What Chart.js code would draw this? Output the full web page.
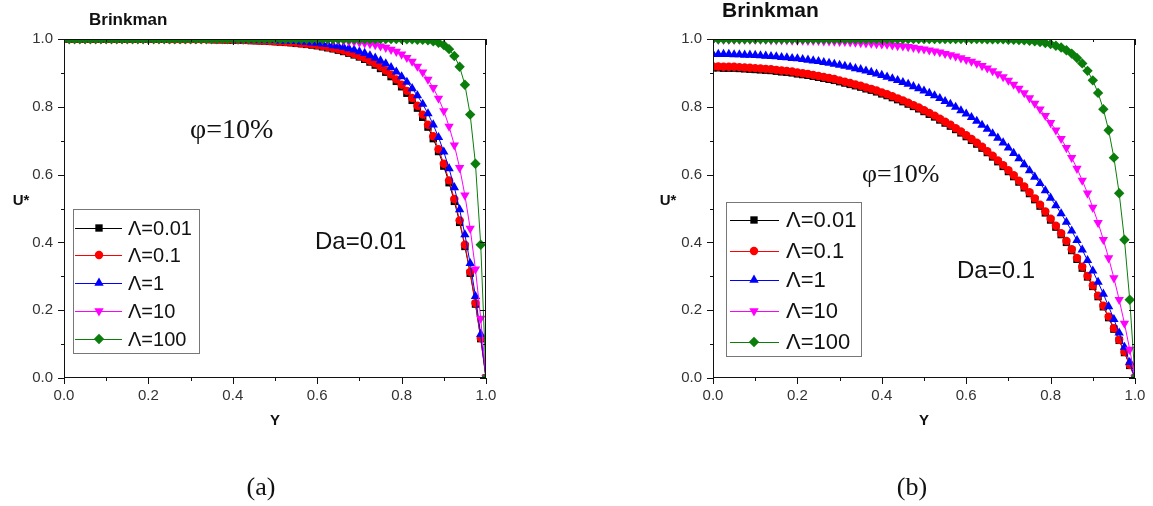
<!DOCTYPE html>
<html>
<head>
<meta charset="utf-8">
<script src="https://cdn.jsdelivr.net/npm/chart.js@4.4.1/dist/chart.umd.min.js"></script>
<style>
  body { margin: 0; background: #fff; width: 1153px; height: 506px; position: relative; overflow: hidden; }
  canvas { position: absolute; top: 0; }
  #chartA { left: 0; }
  #chartB { left: 576px; }
  .cap { position: absolute; top: 472px; line-height: 30px; font-family: "Liberation Serif", "DejaVu Serif", serif; font-size: 26px; color: #111; transform: translateX(-50%); }
</style>
</head>
<body>
<canvas id="chartA" width="576" height="506"></canvas>
<canvas id="chartB" width="577" height="506"></canvas>
<div class="cap" style="left:261px">(a)</div>
<div class="cap" style="left:912px">(b)</div>
<script>
// Y positions across the channel (same for every curve)
const yPos = [0,0.0125,0.025,0.0375,0.05,0.0625,0.075,0.0875,0.1,0.1125,
  0.125,0.1375,0.15,0.1625,0.175,0.1875,0.2,0.2125,0.225,0.2375,
  0.25,0.2625,0.275,0.2875,0.3,0.3125,0.325,0.3375,0.35,0.3625,
  0.375,0.3875,0.4,0.4125,0.425,0.4375,0.45,0.4625,0.475,0.4875,
  0.5,0.5125,0.525,0.5375,0.55,0.5625,0.575,0.5875,0.6,0.6125,
  0.625,0.6375,0.65,0.6625,0.675,0.6875,0.7,0.7125,0.725,0.7375,
  0.75,0.7625,0.775,0.7875,0.8,0.8125,0.825,0.8375,0.85,0.8625,
  0.875,0.8875,0.9,0.9125,0.925,0.9375,0.95,0.9625,0.975,0.9875,1];

const lambdaLabels = ['Λ=0.01', 'Λ=0.1', 'Λ=1', 'Λ=10', 'Λ=100'];

// (a) Da = 0.01
const uA_L001 = [1,1,1,1,1,1,1,1,1,1, 1,1,1,1,1,1,1,1,1,1,
  0.999,0.999,0.999,0.999,0.999,0.999,0.999,0.999,0.998,0.998,
  0.998,0.997,0.997,0.997,0.996,0.996,0.995,0.995,0.994,0.993,
  0.992,0.991,0.990,0.989,0.987,0.986,0.984,0.982,0.980,0.977,
  0.974,0.971,0.967,0.963,0.958,0.953,0.947,0.940,0.932,0.923,
  0.913,0.902,0.889,0.875,0.859,0.840,0.819,0.796,0.769,0.740,
  0.706,0.668,0.625,0.576,0.521,0.459,0.388,0.309,0.218,0.116,0];
const uA_L01 = [1,1,1,1,1,1,1,1,1,1, 1,1,1,1,1,1,1,1,1,1,
  0.999,0.999,0.999,0.999,0.999,0.999,0.999,0.999,0.999,0.998,
  0.998,0.998,0.998,0.997,0.997,0.996,0.996,0.995,0.995,0.994,
  0.993,0.992,0.991,0.990,0.989,0.987,0.986,0.984,0.982,0.979,
  0.976,0.973,0.970,0.966,0.961,0.956,0.950,0.944,0.936,0.928,
  0.918,0.907,0.895,0.881,0.865,0.847,0.826,0.803,0.777,0.747,
  0.713,0.675,0.632,0.583,0.528,0.465,0.393,0.313,0.221,0.118,0];
const uA_L1 = [1,1,1,1,1,1,1,1,1,1, 1,1,1,1,1,1,1,1,1,1,
  1,1,1,0.999,0.999,0.999,0.999,0.999,0.999,0.999,
  0.999,0.999,0.999,0.998,0.998,0.998,0.998,0.997,0.997,0.996,
  0.996,0.995,0.995,0.994,0.993,0.992,0.991,0.989,0.988,0.986,
  0.984,0.981,0.979,0.976,0.972,0.968,0.963,0.958,0.951,0.944,
  0.936,0.927,0.916,0.903,0.889,0.873,0.854,0.833,0.808,0.780,
  0.747,0.710,0.667,0.618,0.562,0.497,0.423,0.338,0.241,0.129,0];
const uA_L10 = [1,1,1,1,1,1,1,1,1,1, 1,1,1,1,1,1,1,1,1,1,
  1,1,1,1,1,1,1,1,1,1, 1,1,1,1,1,1,1,1,1,1,
  1,1,0.999,0.999,0.999,0.999,0.999,0.998,0.998,0.998,
  0.997,0.996,0.996,0.995,0.993,0.992,0.990,0.988,0.986,0.983,
  0.979,0.975,0.969,0.963,0.955,0.945,0.934,0.919,0.902,0.881,
  0.856,0.825,0.788,0.742,0.687,0.620,0.539,0.441,0.321,0.176,0];
const uA_L100 = [1,1,1,1,1,1,1,1,1,1, 1,1,1,1,1,1,1,1,1,1,
  1,1,1,1,1,1,1,1,1,1, 1,1,1,1,1,1,1,1,1,1,
  1,1,1,1,1,1,1,1,1,1, 1,1,1,1,1,1,1,1,1,1,
  1,1,1,1,1,0.999,0.999,0.998,0.998,0.996,
  0.993,0.989,0.982,0.970,0.950,0.918,0.865,0.777,0.632,0.393,0];

// (b) Da = 0.1
const uB_L001 = [0.915,0.915,0.914,0.914,0.914,0.913,0.912,0.911,0.910,0.909,
  0.908,0.907,0.905,0.903,0.902,0.900,0.897,0.895,0.893,0.890,
  0.887,0.884,0.881,0.878,0.874,0.870,0.866,0.862,0.858,0.853,
  0.849,0.844,0.838,0.833,0.827,0.821,0.815,0.808,0.801,0.794,
  0.786,0.778,0.770,0.761,0.752,0.743,0.733,0.723,0.712,0.701,
  0.690,0.678,0.665,0.652,0.638,0.624,0.609,0.594,0.578,0.561,
  0.544,0.526,0.507,0.487,0.466,0.445,0.423,0.400,0.376,0.350,
  0.324,0.298,0.270,0.240,0.210,0.178,0.144,0.111,0.075,0.037,0];
const uB_L01 = [0.919,0.919,0.918,0.918,0.918,0.917,0.916,0.915,0.914,0.913,
  0.912,0.911,0.909,0.907,0.906,0.904,0.901,0.899,0.897,0.894,
  0.891,0.888,0.885,0.882,0.878,0.874,0.870,0.866,0.862,0.857,
  0.853,0.848,0.842,0.837,0.831,0.825,0.819,0.812,0.805,0.798,
  0.790,0.782,0.774,0.765,0.756,0.747,0.737,0.727,0.716,0.705,
  0.694,0.682,0.669,0.656,0.642,0.628,0.613,0.598,0.582,0.565,
  0.548,0.530,0.511,0.491,0.470,0.449,0.427,0.404,0.380,0.354,
  0.328,0.301,0.273,0.243,0.213,0.181,0.147,0.113,0.077,0.039,0];
const uB_L1 = [0.955,0.955,0.955,0.955,0.954,0.954,0.953,0.953,0.952,0.951,
  0.950,0.949,0.948,0.946,0.945,0.943,0.942,0.940,0.938,0.936,
  0.934,0.931,0.929,0.926,0.923,0.920,0.917,0.913,0.910,0.906,
  0.902,0.897,0.893,0.888,0.883,0.878,0.872,0.867,0.860,0.854,
  0.847,0.840,0.833,0.825,0.816,0.808,0.799,0.789,0.779,0.769,
  0.758,0.746,0.734,0.721,0.708,0.694,0.679,0.663,0.647,0.630,
  0.612,0.593,0.574,0.553,0.531,0.509,0.485,0.460,0.434,0.406,
  0.378,0.347,0.316,0.283,0.248,0.211,0.173,0.133,0.091,0.046,0];
const uB_L10 = [0.998,0.998,0.998,0.998,0.998,0.998,0.998,0.998,0.998,0.998,
  0.998,0.997,0.997,0.997,0.997,0.996,0.996,0.996,0.995,0.995,
  0.995,0.994,0.994,0.993,0.992,0.992,0.991,0.990,0.989,0.988,
  0.987,0.986,0.985,0.984,0.982,0.980,0.979,0.977,0.975,0.972,
  0.970,0.967,0.964,0.961,0.957,0.953,0.949,0.944,0.939,0.934,
  0.928,0.921,0.914,0.906,0.897,0.888,0.878,0.866,0.854,0.841,
  0.826,0.810,0.793,0.774,0.753,0.731,0.706,0.679,0.650,0.618,
  0.583,0.545,0.503,0.458,0.408,0.354,0.295,0.231,0.161,0.084,0];
const uB_L100 = [1,1,1,1,1,1,1,1,1,1, 1,1,1,1,1,1,1,1,1,1,
  1,1,1,1,1,1,1,1,1,1, 1,1,1,1,1,1,1,1,1,1,
  1,1,1,1,1,1,1,1,1,1,
  1,1,0.999,0.999,0.999,0.999,0.998,0.998,0.997,0.996,
  0.995,0.993,0.991,0.988,0.985,0.980,0.975,0.967,0.957,0.944,
  0.928,0.906,0.878,0.841,0.793,0.731,0.650,0.545,0.408,0.231,0];

// marker look for each Λ
const looks = [
  { color: '#000000', pointStyle: 'rect', radius: 5.2, rotation: 0 },
  { color: '#ff0000', pointStyle: 'circle', radius: 4.2, rotation: 0 },
  { color: '#0000ff', pointStyle: 'triangle', radius: 5.4, rotation: 0 },
  { color: '#ff00ff', pointStyle: 'triangle', radius: 5.4, rotation: 180 },
  { color: '#0a7d0a', pointStyle: 'rectRot', radius: 5.2, rotation: 0 }
];

const sans = '"Liberation Sans", Arial, sans-serif';
const serif = '"Liberation Serif", "Times New Roman", serif';
Chart.defaults.font.family = sans;

function makeDatasets(lists) {
  return lists.map((vals, k) => ({
    label: lambdaLabels[k],
    data: yPos.map((x, i) => ({ x: x, y: vals[i] })),
    borderColor: looks[k].color,
    backgroundColor: looks[k].color,
    borderWidth: 1,
    tension: 0,
    pointStyle: looks[k].pointStyle,
    pointRadius: looks[k].radius,
    pointRotation: looks[k].rotation,
    pointBorderWidth: 0,
    order: 5 - k
  }));
}

function drawMarker(ctx, look, x, y) {
  const r = look.radius;
  ctx.beginPath();
  if (look.pointStyle === 'circle') {
    ctx.arc(x, y, r, 0, Math.PI * 2);
  } else if (look.pointStyle === 'rect') {
    const s = r * Math.SQRT1_2;
    ctx.rect(x - s, y - s, 2 * s, 2 * s);
  } else if (look.pointStyle === 'rectRot') {
    ctx.moveTo(x - r, y); ctx.lineTo(x, y - r); ctx.lineTo(x + r, y); ctx.lineTo(x, y + r);
    ctx.closePath();
  } else {
    let a = look.rotation * Math.PI / 180;
    for (let k = 0; k < 3; k++) {
      const px = x + Math.sin(a) * r, py = y - Math.cos(a) * r;
      if (k === 0) ctx.moveTo(px, py); else ctx.lineTo(px, py);
      a += 2 * Math.PI / 3;
    }
    ctx.closePath();
  }
  ctx.fill();
}

// box + major/minor ticks (outside on left/bottom, inside on right/top)
const framePlugin = {
  id: 'frame',
  afterDraw(chart) {
    const { ctx, chartArea: a, scales } = chart;
    ctx.save();
    ctx.strokeStyle = '#111';
    ctx.lineWidth = 1;
    ctx.strokeRect(a.left + 0.5, a.top + 0.5, a.right - a.left - 1, a.bottom - a.top - 1);
    ctx.beginPath();
    for (let k = 0; k <= 10; k++) {
      const len = k % 2 === 0 ? 6 : 3;
      const px = Math.round(scales.x.getPixelForValue(k / 10)) + 0.5;
      const py = Math.round(scales.y.getPixelForValue(k / 10)) + 0.5;
      ctx.moveTo(px, a.bottom); ctx.lineTo(px, a.bottom + len);
      ctx.moveTo(px, a.top); ctx.lineTo(px, a.top + len);
      ctx.moveTo(a.left, py); ctx.lineTo(a.left - len, py);
      ctx.moveTo(a.right, py); ctx.lineTo(a.right - len, py);
    }
    ctx.stroke();
    ctx.restore();
  }
};

const notesPlugin = {
  id: 'notes',
  afterDraw(chart, args, opts) {
    const ctx = chart.ctx;
    ctx.save();
    ctx.fillStyle = '#111';
    (opts.items || []).forEach(n => {
      ctx.font = n.font;
      ctx.textAlign = n.align || 'left';
      ctx.textBaseline = n.baseline || 'alphabetic';
      ctx.fillText(n.text, n.x, n.y);
    });
    ctx.restore();
  }
};

const boxLegendPlugin = {
  id: 'boxLegend',
  afterDraw(chart, args, o) {
    if (!o.box) return;
    const ctx = chart.ctx;
    ctx.save();
    ctx.strokeStyle = '#777';
    ctx.lineWidth = 1;
    ctx.strokeRect(o.box[0] + 0.5, o.box[1] + 0.5, o.box[2], o.box[3]);
    ctx.font = o.font;
    ctx.textBaseline = 'middle';
    chart.data.datasets.forEach((ds, k) => {
      const y = o.rows[k];
      ctx.strokeStyle = looks[k].color;
      ctx.beginPath();
      ctx.moveTo(o.line[0], y + 0.5); ctx.lineTo(o.line[1], y + 0.5);
      ctx.stroke();
      ctx.fillStyle = looks[k].color;
      drawMarker(ctx, looks[k], o.mark, y);
      ctx.fillStyle = '#111';
      ctx.fillText(ds.label, o.text, y + 1);
    });
    ctx.restore();
  }
};

function makeChart(id, lists, pad, notes, legendCfg) {
  const tickFont = { size: 15, family: sans };
  return new Chart(document.getElementById(id), {
    type: 'line',
    data: { datasets: makeDatasets(lists) },
    options: {
      responsive: false,
      animation: false,
      devicePixelRatio: 1,
      layout: { padding: pad },
      plugins: {
        legend: { display: false },
        tooltip: { enabled: false },
        notes: { items: notes },
        boxLegend: legendCfg
      },
      scales: {
        x: {
          type: 'linear', min: 0, max: 1,
          grid: { display: false, drawTicks: true, tickLength: 6 },
          border: { display: false },
          ticks: { stepSize: 0.2, padding: 3, color: '#333', font: tickFont, maxRotation: 0,
                   callback: v => v.toFixed(1) },
          afterFit: s => { s.height = 40; }
        },
        y: {
          type: 'linear', min: 0, max: 1,
          grid: { display: false, drawTicks: true, tickLength: 6 },
          border: { display: false },
          ticks: { stepSize: 0.2, padding: 5, color: '#333', font: tickFont,
                   callback: v => v.toFixed(1) },
          afterFit: s => { s.width = 60; }
        }
      }
    },
    plugins: [framePlugin, notesPlugin, boxLegendPlugin]
  });
}

makeChart('chartA', [uA_L001, uA_L01, uA_L1, uA_L10, uA_L100],
  { left: 4, right: 90, top: 39, bottom: 88 },
  [
    { text: 'Brinkman', x: 89, y: 25, font: 'bold 17px ' + sans },
    { text: 'φ=10%', x: 190, y: 138, font: '28px ' + serif },
    { text: 'Da=0.01', x: 315, y: 249, font: '24px ' + sans },
    { text: 'Y', x: 275, y: 421, font: 'bold 15px ' + sans, align: 'center', baseline: 'middle' },
    { text: 'U*', x: 21, y: 201, font: 'bold 15px ' + sans, align: 'center', baseline: 'middle' }
  ],
  { box: [73, 209, 126, 144], rows: [228, 255, 283, 311, 339], line: [75, 122], mark: 99, text: 128,
    font: '20px ' + sans });

makeChart('chartB', [uB_L001, uB_L01, uB_L1, uB_L10, uB_L100],
  { left: 77, right: 18, top: 39, bottom: 88 },
  [
    { text: 'Brinkman', x: 146, y: 17, font: 'bold 21px ' + sans },
    { text: 'φ=10%', x: 286, y: 182, font: '26px ' + serif },
    { text: 'Da=0.1', x: 381, y: 278, font: '24px ' + sans },
    { text: 'Y', x: 348, y: 421, font: 'bold 15px ' + sans, align: 'center', baseline: 'middle' },
    { text: 'U*', x: 92, y: 201, font: 'bold 15px ' + sans, align: 'center', baseline: 'middle' }
  ],
  { box: [150, 202, 135, 154], rows: [220, 251, 280, 311, 342], line: [154, 203], mark: 178, text: 210,
    font: '22px ' + sans });
</script>
</body>
</html>
